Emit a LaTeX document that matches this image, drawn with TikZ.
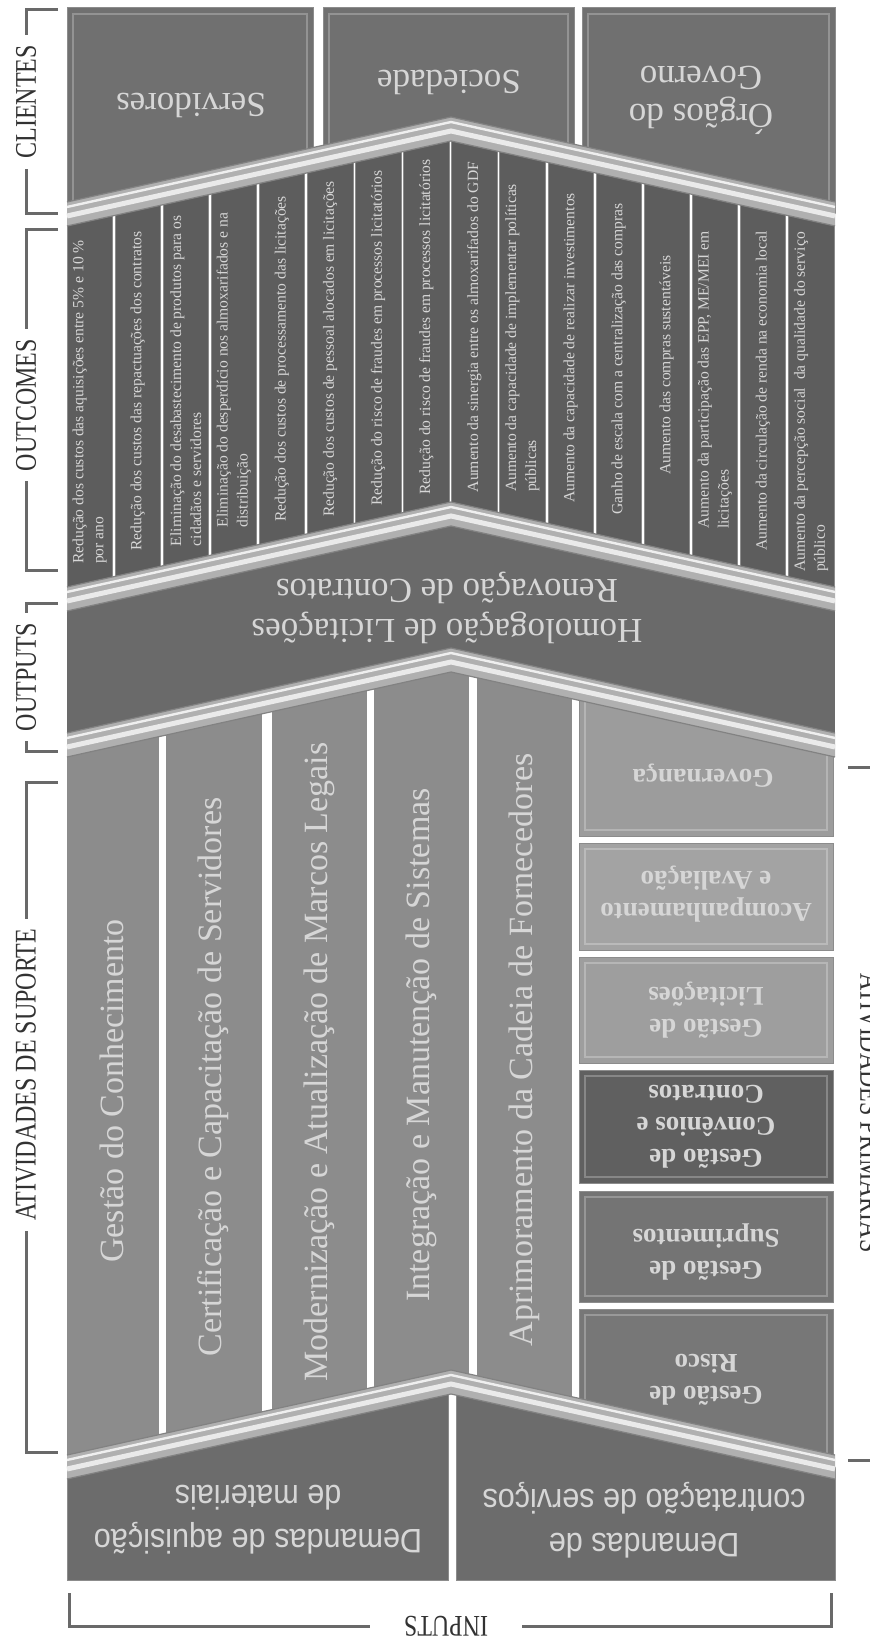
\documentclass[tikz,border=0pt]{standalone}
\usepackage{fontspec}
\setmainfont{Liberation Serif}
\newfontfamily\labelfont[FakeStretch=0.8]{Liberation Serif}
\newfontfamily\demandfont[FakeStretch=0.9]{Liberation Sans}
\usepackage{tikz}
\usetikzlibrary{positioning}
\definecolor{clientgray}{RGB}{112,112,112}
\definecolor{outcomegray}{RGB}{93,93,93}
\definecolor{outputgray}{RGB}{106,106,106}
\definecolor{supportgray}{RGB}{140,140,140}
\definecolor{inputgray}{RGB}{108,108,108}
\definecolor{govgray}{RGB}{156,156,156}
\definecolor{acompgray}{RGB}{163,163,163}
\definecolor{licitgray}{RGB}{158,158,158}
\definecolor{convgray}{RGB}{96,96,96}
\definecolor{suprgray}{RGB}{116,116,116}
\definecolor{riscogray}{RGB}{119,119,119}
\definecolor{bandgray}{RGB}{176,176,176}
\definecolor{bandlight}{RGB}{234,234,234}
\definecolor{banddark}{RGB}{130,130,130}
\definecolor{lighttext}{RGB}{214,214,214}
\definecolor{bracketgray}{RGB}{105,105,105}
\definecolor{labelgray}{RGB}{50,50,50}

\begin{document}
\begin{tikzpicture}[x=0.5pt, y=-0.5pt,
    boxedge/.style={draw=black!45, line width=0.5pt},
    boxtxt/.style={text=lighttext, inner sep=0pt, align=center},
    outcometxt/.style={boxtxt, align=left, rotate=90, font=\fontsize{7.8}{10}\selectfont},
    supporttxt/.style={boxtxt, rotate=90, font=\fontsize{17}{20}\selectfont},
    primarytxt/.style={boxtxt, rotate=180, font=\bfseries\fontsize{13.5}{16}\selectfont},
    clienttxt/.style={boxtxt, rotate=180, font=\fontsize{17.5}{19}\selectfont},
    outputtxt/.style={boxtxt, rotate=180, font=\fontsize{17.5}{20}\selectfont},
    demandtxt/.style={boxtxt, rotate=180, font=\demandfont\fontsize{17}{22}\selectfont},
    brace/.style={draw=bracketgray, line width=1.5pt},
    bracelabel/.style={text=labelgray, inner xsep=5pt, inner ysep=0pt,
                       font=\labelfont\fontsize{15}{18}\selectfont}
]
\useasboundingbox (0,0) rectangle (869,1636);

% clientes
\begin{scope}
  \clip (60,0) -- (845,0) -- (845,216) -- (451,129) -- (60,216) -- cycle;
  \foreach \xa/\xb in {67/313, 323/574, 582/835} {
    \draw[boxedge, fill=clientgray] (\xa,8) rectangle (\xb,240);
    \draw[white, opacity=.25, line width=1pt] (\xa+6,14) rectangle (\xb-6,234);
  }
\end{scope}

% outcomes
\begin{scope}
  \clip (60,216) -- (451,129) -- (845,216) -- (845,601) -- (451,514) -- (60,601) -- cycle;
  \foreach \i in {0,...,15}
    \draw[boxedge, fill=outcomegray] ({67+48.1*\i},100) rectangle ({112.5+48.1*\i},700);
\end{scope}

% outputs
\begin{scope}
  \clip (60,601) -- (451,514) -- (845,601) -- (845,747) -- (451,660) -- (60,747) -- cycle;
  \fill[outputgray] (67,400) rectangle (835,800);
\end{scope}

% atividades de suporte e primarias
\begin{scope}
  \clip (60,747) -- (451,660) -- (845,747) -- (845,1469) -- (451,1382) -- (60,1469) -- cycle;
  \foreach \xa/\xb in {67/158, 166/261, 272/366, 374/468, 477/571}
    \draw[boxedge, fill=supportgray] (\xa,600) rectangle (\xb,1500);
  \foreach \ya/\yb/\col in {650/836/govgray, 843/950/acompgray, 957/1063/licitgray,
                            1070/1183/convgray, 1191/1302/suprgray, 1309/1500/riscogray} {
    \draw[boxedge, fill=\col] (579,\ya) rectangle (833,\yb);
    \draw[white, opacity=.25, line width=1pt] (585,\ya+6) rectangle (827,\yb-6);
  }
\end{scope}

% inputs
\begin{scope}
  \clip (60,1469) -- (451,1382) -- (845,1469) -- (845,1640) -- (60,1640) -- cycle;
  \draw[boxedge, fill=inputgray] (67,1300) rectangle (448,1580);
  \draw[boxedge, fill=inputgray] (456,1300) rectangle (835,1580);
\end{scope}

% faixas
\foreach \Y in {117,502,648,1370} {
  \fill[bandgray] (67,\Y+85) -- (451,\Y) -- (835,\Y+85) -- (835,\Y+109) -- (451,\Y+24) -- (67,\Y+109) -- cycle;
  \draw[white!80!bandgray, line width=1.2pt] (67,\Y+90) -- (451,\Y+5) -- (835,\Y+90);
  \draw[bandlight, line width=2.5pt] (67,\Y+99) -- (451,\Y+14) -- (835,\Y+99);
  \draw[banddark, line width=0.6pt] (67,\Y+85) -- (451,\Y) -- (835,\Y+85);
  \draw[banddark, line width=0.6pt] (67,\Y+109) -- (451,\Y+24) -- (835,\Y+109);
}

\node[clienttxt] (servidores) at (191,105) {Servidores};
\node[clienttxt] (sociedade) at (449,82) {Sociedade};
\node[clienttxt] (orgaos) at (701,100) {Órgãos do\\Governo};

\node[outcometxt] (o1) at (89.5,402) {Redução dos custos das aquisições entre 5\% e 10 \%\\por ano};
\node[outcometxt] (o2) at (137.6,391) {Redução dos custos das repactuações dos contratos};
\node[outcometxt] (o3) at (185.7,381) {Eliminação do desabastecimento de produtos para os\\cidadãos e servidores};
\node[outcometxt] (o4) at (233.8,370) {Eliminação do desperdício nos almoxarifados e na\\distribuição};
\node[outcometxt] (o5) at (281.9,359) {Redução dos custos de processamento das licitações};
\node[outcometxt] (o6) at (330,349) {Redução dos custos de pessoal alocados em licitações};
\node[outcometxt] (o7) at (378.1,338) {Redução do risco de fraudes em processos licitatórios};
\node[outcometxt] (o8) at (426.2,327) {Redução do risco de fraudes em processos licitatórios};
\node[outcometxt] (o9) at (474.3,327) {Aumento da sinergia entre os almoxarifados do GDF};
\node[outcometxt] (o10) at (522.4,338) {Aumento da capacidade de implementar políticas\\públicas};
\node[outcometxt] (o11) at (570.5,348) {Aumento da capacidade de realizar investimentos};
\node[outcometxt] (o12) at (618.6,359) {Ganho de escala com a centralização das compras};
\node[outcometxt] (o13) at (666.7,365) {Aumento das compras sustentáveis};
\node[outcometxt] (o14) at (714.8,380) {Aumento da participação das EPP, ME/MEI em\\licitações};
\node[outcometxt] (o15) at (762.9,391) {Aumento da circulação de renda na economia local};
\node[outcometxt] (o16) at (811,402) {Aumento da percepção social\ \ da qualidade do serviço\\público};

\node[outputtxt] (homolog) at (447,608) {Homologação de Licitações\\Renovação de Contratos};

\node[supporttxt] (conhec) at (112,1091) {Gestão do Conhecimento};
\node[supporttxt] (certif) at (213,1077) {Certificação e Capacitação de Servidores};
\node[supporttxt] (moderniz) at (319,1062) {Modernização e Atualização de Marcos Legais};
\node[supporttxt] (integr) at (421,1045) {Integração e Manutenção de Sistemas};
\node[supporttxt] (aprimor) at (524,1050) {Aprimoramento da Cadeia de Fornecedores};

\node[primarytxt] (gov) at (703,776) {Governança};
\node[primarytxt] (acomp) at (706,894) {Acompanhamento\\e Avaliação};
\node[primarytxt] (licit) at (706,1010) {Gestão de\\Licitações};
\node[primarytxt] (conv) at (706,1127) {Gestão de\\Convênios e\\Contratos};
\node[primarytxt] (supr) at (706,1252) {Gestão de\\Suprimentos};
\node[primarytxt] (risco) at (706,1380) {Gestão de\\Risco};

\node[demandtxt] (materiais) at (258,1520) {Demandas de aquisição\\de materiais};
\node[demandtxt] (servicos) at (644,1520) {Demandas de\\contratação de serviços};

% chaves
\node[bracelabel, rotate=90] (clientes) at (26,102) {CLIENTES};
\draw[brace] (58,10) -- (26,10) -- (clientes.east);
\draw[brace] (clientes.west) -- (26,214) -- (58,214);

\node[bracelabel, rotate=90] (outcomes) at (26,405) {OUTCOMES};
\draw[brace] (58,230) -- (26,230) -- (outcomes.east);
\draw[brace] (outcomes.west) -- (26,570) -- (58,570);

\node[bracelabel, rotate=90] (outputs) at (26,677) {OUTPUTS};
\draw[brace] (58,603) -- (26,603) -- (outputs.east);
\draw[brace] (outputs.west) -- (26,751) -- (58,751);

\node[bracelabel, rotate=90] (suporte) at (26,1075) {ATIVIDADES DE SUPORTE};
\draw[brace] (58,782) -- (26,782) -- (suporte.east);
\draw[brace] (suporte.west) -- (26,1452) -- (58,1452);

\node[bracelabel, rotate=-90] (primarias) at (873,1113) {ATIVIDADES PRIMÁRIAS};
\draw[brace] (848,767) -- (873,767) -- (primarias.west);
\draw[brace] (primarias.east) -- (873,1460) -- (848,1460);

\node[bracelabel, rotate=180, inner xsep=17pt] (inputs) at (446,1626) {INPUTS};
\draw[brace] (69,1593) -- (69,1626) -- (inputs.east);
\draw[brace] (inputs.west) -- (831,1626) -- (831,1593);
\end{tikzpicture}
\end{document}
